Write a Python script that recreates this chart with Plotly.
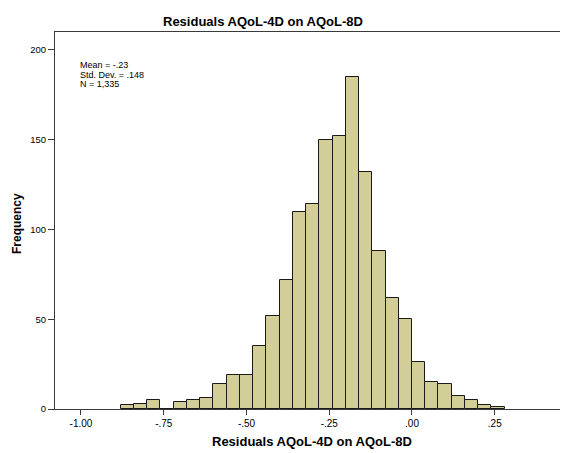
import plotly.graph_objects as go

# Histogram bins (left edge of each bin) and frequencies
bin_starts = [-0.88, -0.84, -0.80, -0.76, -0.72, -0.68, -0.64, -0.60, -0.56, -0.52,
              -0.48, -0.44, -0.40, -0.36, -0.32, -0.28, -0.24, -0.20, -0.16, -0.12,
              -0.08, -0.04, 0.00, 0.04, 0.08, 0.12, 0.16, 0.20, 0.24]
frequencies = [2, 3, 5, 0, 4, 5, 6, 14, 19, 19,
               35, 52, 72, 110, 114, 150, 152, 185, 132, 88,
               62, 50, 26, 15, 14, 7, 5, 2, 1]
bin_width = 0.04

x_tickvals = [-1.00, -0.75, -0.50, -0.25, 0.00, 0.25]
x_ticktext = ["-1.00", "-.75", "-.50", "-.25", ".00", ".25"]
y_tickvals = [0, 50, 100, 150, 200]
y_ticktext = ["0", "50", "100", "150", "200"]

title_text = "Residuals AQoL-4D on AQoL-8D"
x_title = "Residuals AQoL-4D on AQoL-8D"
y_title = "Frequency"
stats_lines = ["Mean = -.23", "Std. Dev. = .148", "N = 1,335"]

FONT = "Liberation Sans, Arial, sans-serif"
OFF = 8  # browser default body margin
W, H = 568 - OFF, 453 - OFF
L, R, T, B = 55 - OFF, 0, 32 - OFF, 44

fig = go.Figure()
fig.add_trace(go.Bar(
    x=bin_starts, y=frequencies, width=bin_width, offset=0,
    marker=dict(color="#D3CE97", line=dict(color="#1a1a1a", width=1)),
    hoverinfo="x+y",
))

fig.update_layout(
    width=W, height=H,
    margin=dict(l=L, r=R, t=T, b=B, pad=0),
    paper_bgcolor="white", plot_bgcolor="white",
    showlegend=False,
    font=dict(family=FONT, size=10, color="black"),
    bargap=0,
)
fig.update_xaxes(
    range=[-1.0785, 0.4713], tickvals=x_tickvals, ticktext=x_ticktext,
    showgrid=False, zeroline=False,
    showline=True, linecolor="#3a3a3a", linewidth=1, mirror=True,
    ticks="outside", ticklen=5, tickcolor="#3a3a3a", tickwidth=1,
    tickfont=dict(size=10, family=FONT, color="black"),
)
fig.update_yaxes(
    range=[0, 210], tickvals=y_tickvals, ticktext=y_ticktext,
    showgrid=False, zeroline=False,
    showline=True, linecolor="#3a3a3a", linewidth=1, mirror=False,
    ticks="outside", ticklen=6, tickcolor="#3a3a3a", tickwidth=1,
    tickfont=dict(size=9.5, family=FONT, color="black"),
)

ph = H - T - B
pw = W - L - R

# helpers converting page pixel positions to paper fractions
def px(xp):
    return (xp - OFF - L) / pw

def py(yp):
    return (H - B - (yp - OFF)) / ph

ann = []
ann.append(dict(text="<b>" + title_text + "</b>", x=263, y=21, xref="paper", yref="paper",
                showarrow=False, font=dict(size=13, family=FONT, color="black")))
ann.append(dict(text="<b>" + x_title + "</b>", x=312, y=441, xref="paper", yref="paper",
                showarrow=False, font=dict(size=13, family=FONT, color="black")))
ann.append(dict(text="<b>" + y_title + "</b>", x=17, y=224, xref="paper", yref="paper",
                showarrow=False, textangle=-90, font=dict(size=12, family=FONT, color="black")))
for i, line in enumerate(stats_lines):
    ann.append(dict(text=line, x=78, y=65 + 9.7 * i, xref="paper", yref="paper",
                    xanchor="left", showarrow=False,
                    font=dict(size=9, family=FONT, color="black")))

for a in ann:
    xa, ya = a["x"], a["y"]
    a["x"] = px(xa)
    a["y"] = py(ya)
    a.setdefault("xanchor", "center")
    a["yanchor"] = "middle"
fig.update_layout(annotations=ann)

fig.write_html("out.html")
